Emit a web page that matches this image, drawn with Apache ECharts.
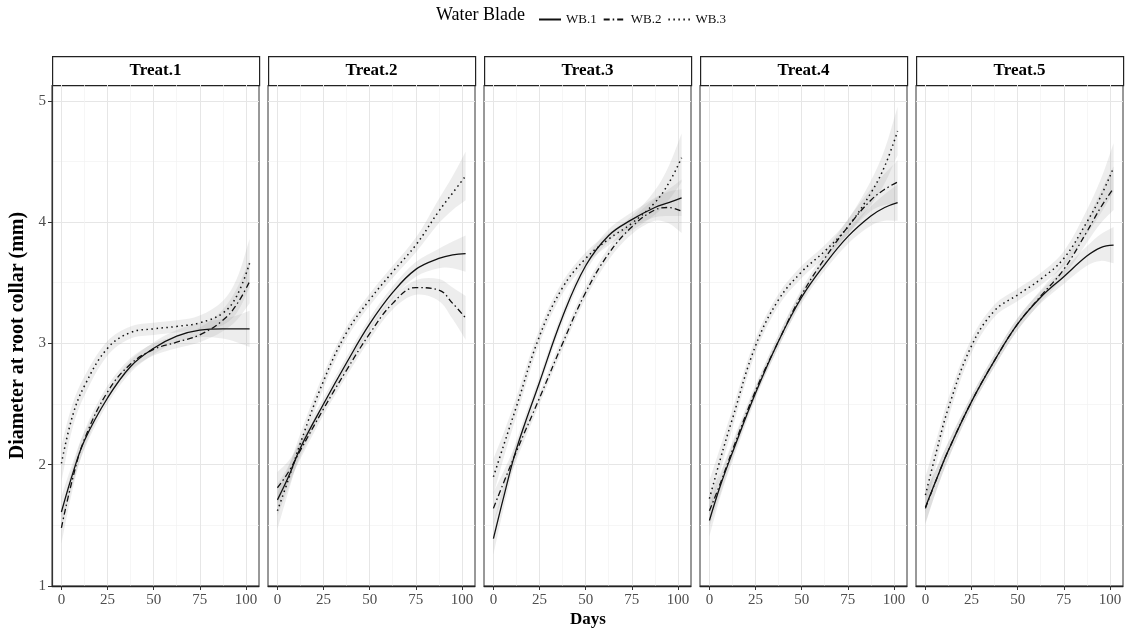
<!DOCTYPE html>
<html>
<head>
<meta charset="utf-8">
<script src="https://cdn.jsdelivr.net/npm/echarts@6/dist/echarts.min.js"></script>
<style>
  html, body { margin: 0; background: #fff; }
  #chart { width: 1129px; height: 633px; }
</style>
</head>
<body>
<div id="chart"></div>
<script>
var dom = document.getElementById('chart');
var myChart = echarts.init(dom, null, { renderer: 'canvas' });

// data (smoothed fits)
var days = [0, 6, 12.5, 25, 37.5, 50, 62.5, 75, 87.5, 95, 102];
var treats = ['Treat.1', 'Treat.2', 'Treat.3', 'Treat.4', 'Treat.5'];
var blades = ['WB.1', 'WB.2', 'WB.3'];
var xTicks = [0, 25, 50, 75, 100];
var xMinor = [12.5, 37.5, 62.5, 87.5];
var yTicks = [1, 2, 3, 4, 5];
var yMinor = [1.5, 2.5, 3.5, 4.5];

var t1wb1 = [1.61, 1.92, 2.20, 2.55, 2.81, 2.96, 3.06, 3.11, 3.12, 3.12, 3.12];
var t1wb2 = [1.48, 1.88, 2.21, 2.60, 2.83, 2.95, 3.01, 3.07, 3.19, 3.32, 3.51];
var t1wb3 = [2.01, 2.40, 2.65, 2.96, 3.09, 3.12, 3.14, 3.17, 3.25, 3.39, 3.66];

var t2wb1 = [1.71, 1.90, 2.14, 2.50, 2.84, 3.16, 3.42, 3.61, 3.70, 3.73, 3.74];
var t2wb2 = [1.81, 1.94, 2.12, 2.46, 2.78, 3.08, 3.33, 3.46, 3.44, 3.33, 3.21];
var t2wb3 = [1.62, 1.88, 2.18, 2.69, 3.09, 3.36, 3.59, 3.81, 4.09, 4.24, 4.38];

var t3wb1 = [1.39, 1.76, 2.13, 2.68, 3.22, 3.64, 3.89, 4.02, 4.12, 4.16, 4.20];
var t3wb2 = [1.64, 1.87, 2.11, 2.55, 3.00, 3.42, 3.74, 3.96, 4.10, 4.12, 4.09];
var t3wb3 = [1.90, 2.18, 2.48, 3.06, 3.46, 3.70, 3.86, 3.99, 4.16, 4.32, 4.53];

var t4wb1 = [1.54, 1.83, 2.10, 2.59, 3.02, 3.38, 3.65, 3.88, 4.05, 4.12, 4.16];
var t4wb2 = [1.62, 1.85, 2.12, 2.61, 3.02, 3.40, 3.70, 3.96, 4.18, 4.27, 4.33];
var t4wb3 = [1.72, 2.05, 2.38, 2.98, 3.36, 3.59, 3.76, 3.96, 4.24, 4.46, 4.75];

var t5wb1 = [1.65, 1.88, 2.12, 2.52, 2.86, 3.16, 3.38, 3.55, 3.72, 3.79, 3.81];
var t5wb2 = [1.64, 1.88, 2.12, 2.52, 2.86, 3.16, 3.39, 3.61, 3.92, 4.12, 4.28];
var t5wb3 = [1.75, 2.11, 2.47, 2.98, 3.27, 3.40, 3.53, 3.70, 4.00, 4.21, 4.45];

// half-width of the grey confidence ribbons
var bandWb1 = [0.13, 0.09, 0.07, 0.05, 0.05, 0.05, 0.05, 0.06, 0.08, 0.11, 0.15];
var bandWb2 = [0.13, 0.09, 0.07, 0.05, 0.05, 0.05, 0.05, 0.06, 0.09, 0.13, 0.18];
var bandWb3 = [0.15, 0.10, 0.08, 0.06, 0.05, 0.05, 0.05, 0.06, 0.10, 0.14, 0.20];

var panels = [
  [t1wb1, t1wb2, t1wb3],
  [t2wb1, t2wb2, t2wb3],
  [t3wb1, t3wb2, t3wb3],
  [t4wb1, t4wb2, t4wb3],
  [t5wb1, t5wb2, t5wb3]
];
var bands = [bandWb1, bandWb2, bandWb3];
var lineTypes = ['solid', [6, 3, 1.5, 3], [1.5, 3.5]];
var lineWidths = [1.3, 1.3, 1.5];

var font = '"Liberation Serif", "DejaVu Serif", serif';
var panelLeft = 52, panelStep = 216, panelWidth = 207;
var panelTop = 85, panelHeight = 501;

// ribbon polygon: upper edge then lower edge back, corners doubled to stay sharp
function bandRenderer(vals, hw) {
  return function (params, api) {
    if (params.dataIndex !== 0) return;
    var up = [], lo = [];
    days.forEach(function (d, j) {
      up.push(api.coord([d, vals[j] + hw[j]]));
      lo.push(api.coord([d, vals[j] - hw[j]]));
    });
    lo.reverse();
    var pts = [up[0]].concat(up, [up[up.length - 1]], [lo[0]], lo, [lo[lo.length - 1]]);
    return {
      type: 'polygon',
      shape: { points: pts, smooth: 0.35 },
      style: { fill: 'rgba(140,140,140,0.16)' },
      silent: true
    };
  };
}

var grids = [], xAxes = [], yAxes = [], bandSeries = [], lineSeries = [], graphics = [];

panels.forEach(function (panel, i) {
  var left = panelLeft + panelStep * i;
  grids.push({
    left: left, top: panelTop, width: panelWidth, height: panelHeight,
    show: true, borderColor: '#333', borderWidth: 1, backgroundColor: 'transparent'
  });

  // main x axis with major grid lines
  xAxes.push({
    gridIndex: i, type: 'value', min: -5.1, max: 107.1,
    axisLine: { show: true, onZero: false, lineStyle: { color: '#222', width: 1.3 } },
    axisTick: { show: true, customValues: xTicks, length: 4, lineStyle: { color: '#333' } },
    axisLabel: { customValues: xTicks, margin: 7, color: '#4d4d4d', fontSize: 15, fontFamily: font },
    splitLine: { show: true, lineStyle: { color: '#e6e6e6', width: 1 } }
  });
  // minor grid lines only
  xAxes.push({
    gridIndex: i, type: 'value', min: -5.1, max: 107.1, position: 'bottom',
    axisLine: { show: false },
    axisTick: { show: false, customValues: xMinor },
    axisLabel: { show: false },
    splitLine: { show: true, lineStyle: { color: '#f2f2f2', width: 0.7 } }
  });

  yAxes.push({
    gridIndex: i, type: 'value', min: 1, max: 5.13,
    name: i === 0 ? 'Diameter at root collar (mm)' : '',
    nameLocation: 'middle', nameGap: 24,
    nameTextStyle: { fontFamily: font, fontSize: 20, fontWeight: 'bold', color: '#000' },
    axisLine: { show: i === 0, onZero: false, lineStyle: { color: '#333', width: 1.2 } },
    axisTick: { show: i === 0, customValues: yTicks, length: 4, lineStyle: { color: '#333' } },
    axisLabel: { show: i === 0, customValues: yTicks, margin: 6, color: '#4d4d4d', fontSize: 15, fontFamily: font },
    splitLine: { show: true, lineStyle: { color: '#e6e6e6', width: 1 } }
  });
  yAxes.push({
    gridIndex: i, type: 'value', min: 1, max: 5.13, position: 'left',
    axisLine: { show: false },
    axisTick: { show: false, customValues: yMinor },
    axisLabel: { show: false },
    splitLine: { show: true, lineStyle: { color: '#f2f2f2', width: 0.7 } }
  });

  panel.forEach(function (vals, k) {
    bandSeries.push({
      type: 'custom', xAxisIndex: 2 * i, yAxisIndex: 2 * i,
      data: [[days[0], vals[0]]],
      renderItem: bandRenderer(vals, bands[k]),
      silent: true
    });
    lineSeries.push({
      name: blades[k], type: 'line', xAxisIndex: 2 * i, yAxisIndex: 2 * i,
      data: days.map(function (d, j) { return [d, vals[j]]; }),
      smooth: 0.4, symbol: 'none',
      lineStyle: { color: '#111', width: lineWidths[k], type: lineTypes[k] },
      itemStyle: { color: '#111' }
    });
  });

  // facet strip
  graphics.push({
    type: 'rect', left: left, top: 56,
    shape: { width: panelWidth, height: 29 },
    style: { fill: '#fff', stroke: '#222', lineWidth: 1.2 }
  });
  graphics.push({
    type: 'text', x: left + panelWidth / 2, y: 71,
    style: {
      text: treats[i], fontFamily: font, fontSize: 17, fontWeight: 'bold',
      fill: '#000', textAlign: 'center', textVerticalAlign: 'middle'
    }
  });
});

graphics.push({
  type: 'text', x: 588, y: 620,
  style: {
    text: 'Days', fontFamily: font, fontSize: 17, fontWeight: 'bold',
    fill: '#000', textAlign: 'center', textVerticalAlign: 'middle'
  }
});
graphics.push({
  type: 'text', x: 436, y: 15,
  style: {
    text: 'Water Blade', fontFamily: font, fontSize: 18,
    fill: '#000', textAlign: 'left', textVerticalAlign: 'middle'
  }
});

var option = {
  animation: false,
  backgroundColor: '#fff',
  legend: {
    data: blades, left: 533, top: 8,
    itemWidth: 22, itemHeight: 14, itemGap: 6,
    itemStyle: { opacity: 0 },
    textStyle: { fontFamily: font, fontSize: 13, color: '#111' }
  },
  grid: grids,
  xAxis: xAxes,
  yAxis: yAxes,
  graphic: graphics,
  series: bandSeries.concat(lineSeries)
};

myChart.setOption(option);
window.addEventListener('resize', myChart.resize);
</script>
</body>
</html>
